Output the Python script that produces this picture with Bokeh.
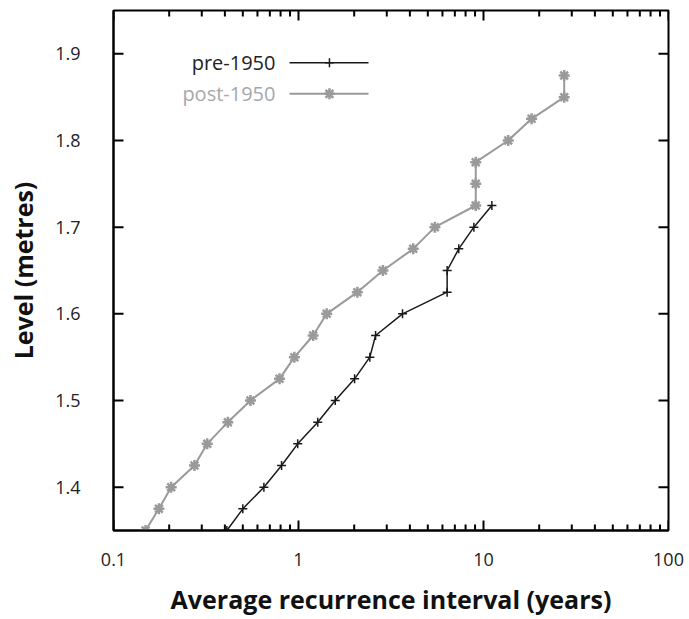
import math
from bokeh.plotting import figure
from bokeh.models import FixedTicker, Label, Range1d
from bokeh.embed import file_html
from bokeh.resources import INLINE

# ---- data ----
pre_levels = [1.35, 1.375, 1.4, 1.425, 1.45, 1.475, 1.5, 1.525, 1.55, 1.575,
              1.6, 1.625, 1.65, 1.675, 1.7, 1.725]
pre_interval = [0.41, 0.50, 0.65, 0.81, 0.99, 1.27, 1.58, 2.01, 2.43, 2.61,
                3.65, 6.36, 6.36, 7.35, 8.87, 11.1]

post_levels = [1.35, 1.375, 1.4, 1.425, 1.45, 1.475, 1.5, 1.525, 1.55, 1.575,
               1.6, 1.625, 1.65, 1.675, 1.7, 1.725, 1.75, 1.775, 1.8, 1.825,
               1.85, 1.875]
post_interval = [0.149, 0.176, 0.205, 0.274, 0.321, 0.415, 0.55, 0.79, 0.95, 1.2,
                 1.42, 2.08, 2.86, 4.17, 5.46, 9.08, 9.08, 9.08, 13.6, 18.2,
                 27.3, 27.3]

x_ticks = [0.1, 1, 10, 100]
x_tick_labels = ["0.1", "1", "10", "100"]
y_ticks = [1.4, 1.5, 1.6, 1.7, 1.8, 1.9]
y_tick_labels = ["1.4", "1.5", "1.6", "1.7", "1.8", "1.9"]
x_minor = [m * d for d in [0.1, 1, 10] for m in range(2, 10)]

X_MIN, X_MAX = 0.1, 100
Y_MIN, Y_MAX = 1.35, 1.95

FONT = "Open Sans"
PRE_COLOR = "#1a1a1a"
POST_COLOR = "#9a9a9a"

p = figure(frame_width=555, frame_height=520, x_axis_type="log",
           x_range=Range1d(X_MIN, X_MAX), y_range=Range1d(Y_MIN, Y_MAX),
           output_backend="svg", toolbar_location=None,
           min_border_left=113, min_border_right=21,
           min_border_top=10, min_border_bottom=89)
p.xgrid.visible = False
p.ygrid.visible = False
p.outline_line_color = "black"
p.outline_line_width = 2
p.background_fill_color = "white"
p.border_fill_color = "white"

def style_axis(ax, ticks, labels):
    ax.ticker = FixedTicker(ticks=ticks, minor_ticks=[])
    ax.axis_line_width = 2
    ax.axis_line_color = "black"
    ax.major_tick_in = 0
    ax.major_tick_out = 0
    ax.minor_tick_in = 0
    ax.minor_tick_out = 0
    ax.major_tick_line_color = None
    ax.minor_tick_line_color = None
    ax.major_label_text_font = FONT
    ax.major_label_text_font_size = "18px"
    ax.major_label_text_color = "#222222"
    ax.major_label_overrides = {t: l for t, l in zip(ticks, labels)}
    ax.axis_label_text_font = FONT
    ax.axis_label_text_font_size = "25px"
    ax.axis_label_text_font_style = "bold"
    ax.axis_label_text_color = "#111111"

xa = p.xaxis[0]
style_axis(xa, x_ticks, x_tick_labels)
xa.major_label_standoff = 22
xa.axis_label = "Average recurrence interval (years)"
xa.axis_label_standoff = 13

ya = p.yaxis[0]
style_axis(ya, y_ticks, y_tick_labels)
ya.major_label_standoff = 33
ya.axis_label = "Level (metres)"
ya.axis_label_standoff = 12

# ---- inward ticks on all four sides (mirror), drawn as short screen-length rays ----
TICK_MAJOR = 10
TICK_MINOR = 6
tick_style = dict(line_color="black", line_width=2, length_units="screen")
# bottom edge (pointing up) and top edge (pointing down)
p.ray(x=x_ticks, y=[Y_MIN] * len(x_ticks), length=TICK_MAJOR, angle=math.pi / 2, **tick_style)
p.ray(x=x_minor, y=[Y_MIN] * len(x_minor), length=TICK_MINOR, angle=math.pi / 2, **tick_style)
p.ray(x=x_ticks, y=[Y_MAX] * len(x_ticks), length=TICK_MAJOR, angle=-math.pi / 2, **tick_style)
p.ray(x=x_minor, y=[Y_MAX] * len(x_minor), length=TICK_MINOR, angle=-math.pi / 2, **tick_style)
# left edge (pointing right) and right edge (pointing left)
p.ray(x=[X_MIN] * len(y_ticks), y=y_ticks, length=TICK_MAJOR, angle=0, **tick_style)
p.ray(x=[X_MAX] * len(y_ticks), y=y_ticks, length=TICK_MAJOR, angle=math.pi, **tick_style)

# ---- series ----
p.line(post_interval, post_levels, line_color=POST_COLOR, line_width=2)
p.scatter(post_interval, post_levels, marker="asterisk", size=11,
          line_color=POST_COLOR, line_width=2.5)
p.line(pre_interval, pre_levels, line_color=PRE_COLOR, line_width=1.5)
p.scatter(pre_interval, pre_levels, marker="cross", size=9,
          line_color=PRE_COLOR, line_width=1.5)

# ---- manual legend (label left of sample, gnuplot style) ----
leg_text_x = 0.751
leg_line_x = [0.894, 2.39]
leg_mark_x = [1.47]
leg_y_pre = 1.8896
leg_y_post = 1.8538

p.add_layout(Label(x=leg_text_x, y=leg_y_pre, text="pre-1950", text_align="right",
                   text_baseline="middle", text_font=FONT, text_font_size="20px",
                   text_color="#222222"))
p.add_layout(Label(x=leg_text_x, y=leg_y_post, text="post-1950", text_align="right",
                   text_baseline="middle", text_font=FONT, text_font_size="20px",
                   text_color="#a6a8aa"))
p.line(leg_line_x, [leg_y_pre] * 2, line_color=PRE_COLOR, line_width=1.5)
p.scatter(leg_mark_x, [leg_y_pre], marker="cross", size=9, line_color=PRE_COLOR,
          line_width=1.5)
p.line(leg_line_x, [leg_y_post] * 2, line_color=POST_COLOR, line_width=2)
p.scatter(leg_mark_x, [leg_y_post], marker="asterisk", size=11,
          line_color=POST_COLOR, line_width=2.5)

open("out.html", "w").write(file_html(p, INLINE))
